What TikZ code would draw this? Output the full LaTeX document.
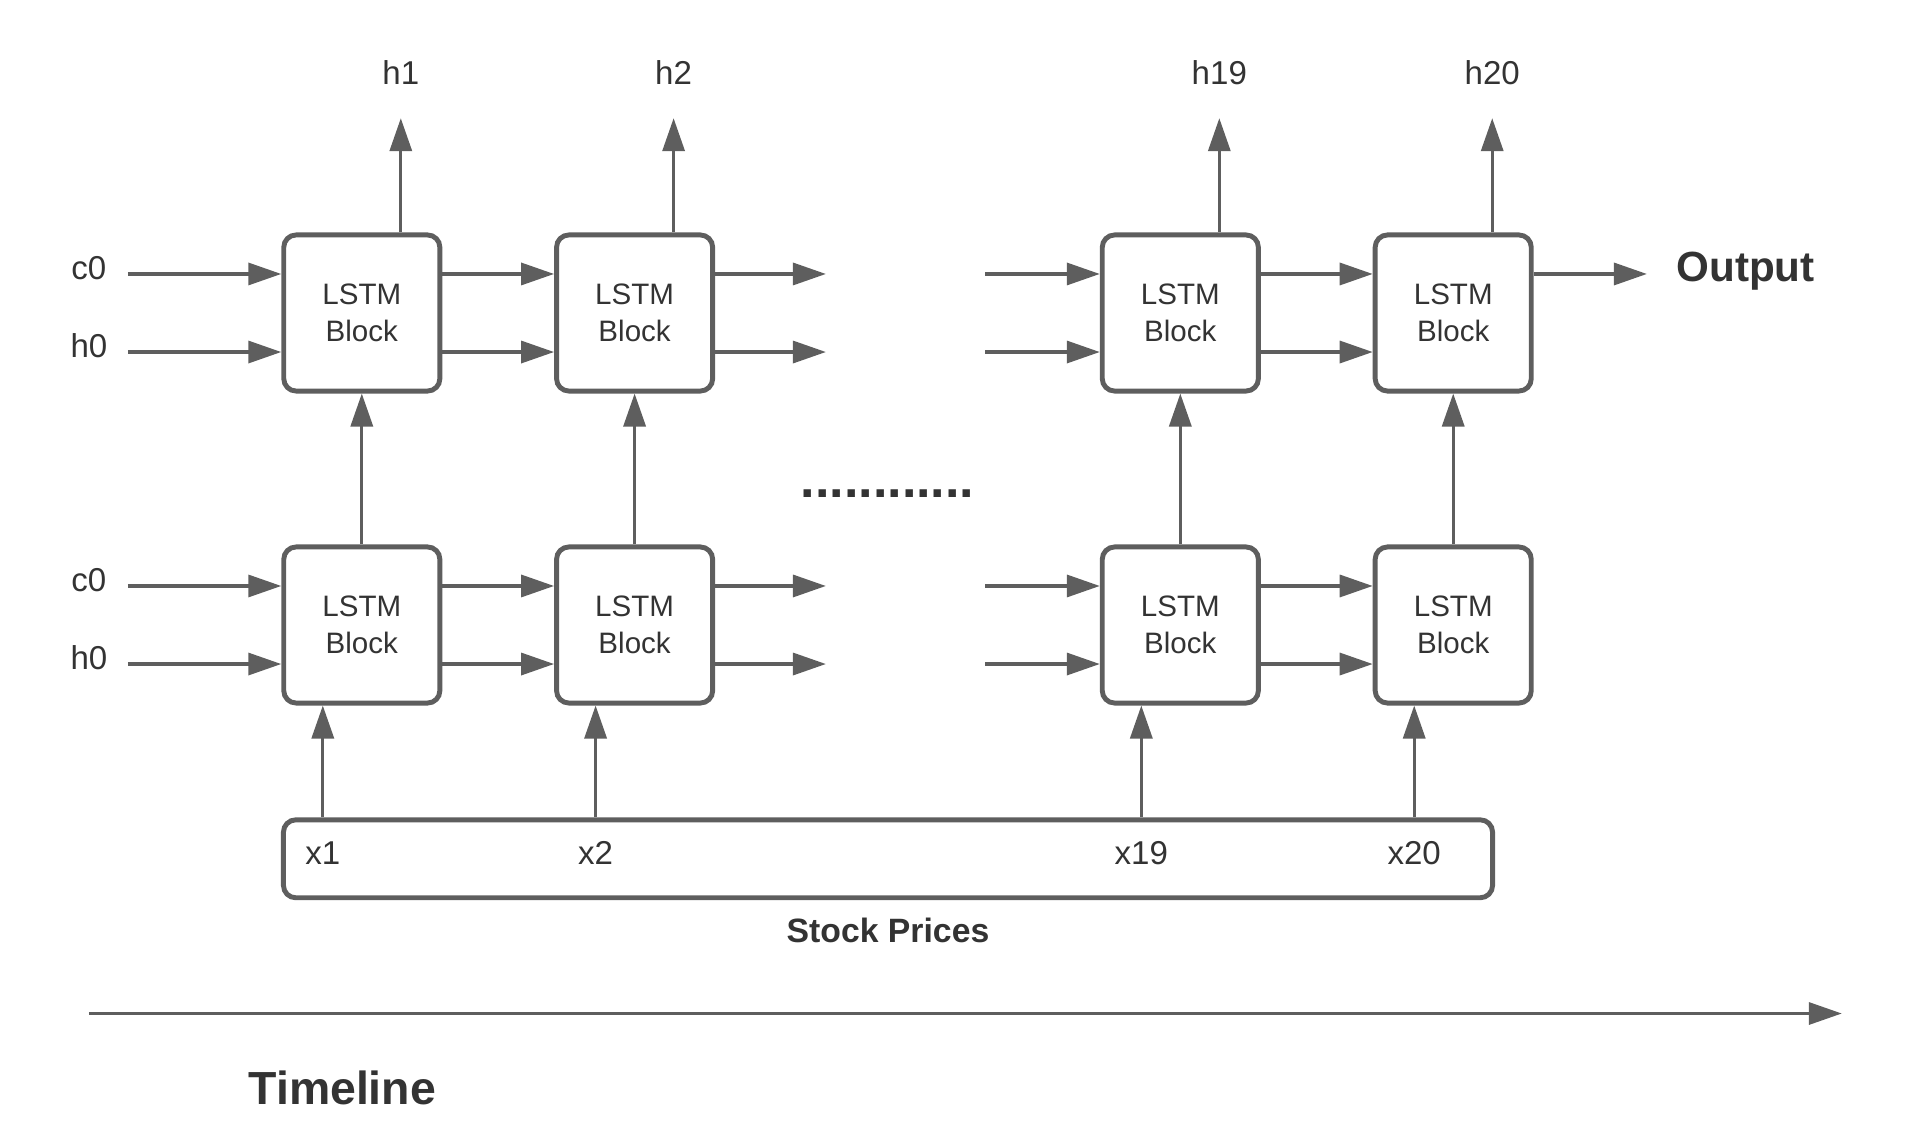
\documentclass[tikz,border=0pt]{standalone}
\usepackage{fontspec}
\setmainfont{Liberation Sans}
\usepackage{xcolor}
\usetikzlibrary{arrows.meta, positioning, calc}
\definecolor{linegray}{HTML}{5E5E5E}
\definecolor{textgray}{HTML}{333333}

\begin{document}
\begin{tikzpicture}[x=0.01cm, y=-0.01cm,
  >={Triangle[length=0.33cm, width=0.22cm]},
  flow/.style={->, draw=linegray, line width=0.95pt},
  lstm/.style={draw=linegray, line width=1.4pt, rounded corners=3.5pt,
    minimum width=1.56cm, minimum height=1.56cm, inner sep=0pt,
    align=center, text=textgray, font=\fontsize{8.4}{10.4}\selectfont},
  lbl/.style={text=textgray, inner sep=0pt, font=\fontsize{9.4}{11}\selectfont},
  heading/.style={text=textgray, inner sep=0pt, font=\bfseries\fontsize{12}{14}\selectfont}]
  \useasboundingbox (0,0) rectangle (1910,1146);

  % free ends of the open connectors
  \coordinate (in) at (127.9,0);
  \coordinate (gapa) at (825.9,0);
  \coordinate (gapb) at (985.4,0);
  \coordinate (outend) at (1646.9,0);

  % input sequence bar
  \node[draw=linegray, line width=1.4pt, rounded corners=3.5pt,
    minimum width=12.084cm, minimum height=0.779cm, inner sep=0pt] (bar) at (888,858.8) {};
  \node[lbl, font=\bfseries\fontsize{9.6}{11}\selectfont] (prices) at (888,930.6) {Stock Prices};

  % two stacked rows of LSTM blocks
  \foreach \t/\x in {1/361.8, 2/634.6, 19/1180.3, 20/1453.2} {
    \node[lstm] (up\t) at (\x,313) {LSTM\\Block};
    \node[lstm] (lo\t) at (\x,625) {LSTM\\Block};
    \draw[flow] (lo\t) -- (up\t);
    % hidden state out
    \node[lbl] (h\t) at (\x+39,73) {h\t};
    \coordinate (ht\t) at (\x+39,118.2);
    \draw[flow] (up\t.north -| ht\t) -- (ht\t);
    % price in
    \node[lbl] (x\t) at (\x-39,852.7) {x\t};
    \draw[flow] (x\t |- bar.north) -- (lo\t.south -| x\t);
  }

  % recurrent connections (c above, h below)
  \foreach \r in {up, lo} {
    \foreach \s in {0.39cm, -0.39cm} {
      \draw[flow] ([yshift=\s]\r1.west -| in) -- ([yshift=\s]\r1.west);
      \draw[flow] ([yshift=\s]\r1.east) -- ([yshift=\s]\r2.west);
      \draw[flow] ([yshift=\s]\r2.east) -- ([yshift=\s]\r2.east -| gapa);
      \draw[flow] ([yshift=\s]\r19.west -| gapb) -- ([yshift=\s]\r19.west);
      \draw[flow] ([yshift=\s]\r19.east) -- ([yshift=\s]\r20.west);
    }
  }
  \node[lbl] (cup) at (88.9,268) {c0};
  \node[lbl] (hup) at (88.9,346) {h0};
  \node[lbl] (clo) at (88.9,580) {c0};
  \node[lbl] (hlo) at (88.9,658) {h0};

  \draw[flow] ([yshift=0.39cm]up20.east) -- ([yshift=0.39cm]up20.east -| outend);
  \node[heading] (output) at (1745.5,271.5) {Output};

  \node[text=textgray, inner sep=0pt, font=\bfseries\fontsize{14.8}{16}\selectfont] (dots) at (887.5,494) {............};

  % timeline
  \coordinate (tl0) at (88.9,1013.5);
  \coordinate (tl1) at (1841.8,1013.5);
  \draw[flow] (tl0) -- (tl1);
  \node[heading, font=\bfseries\fontsize{13.2}{15}\selectfont] (timeline) at (342.3,1087.8) {Timeline};
\end{tikzpicture}
\end{document}
